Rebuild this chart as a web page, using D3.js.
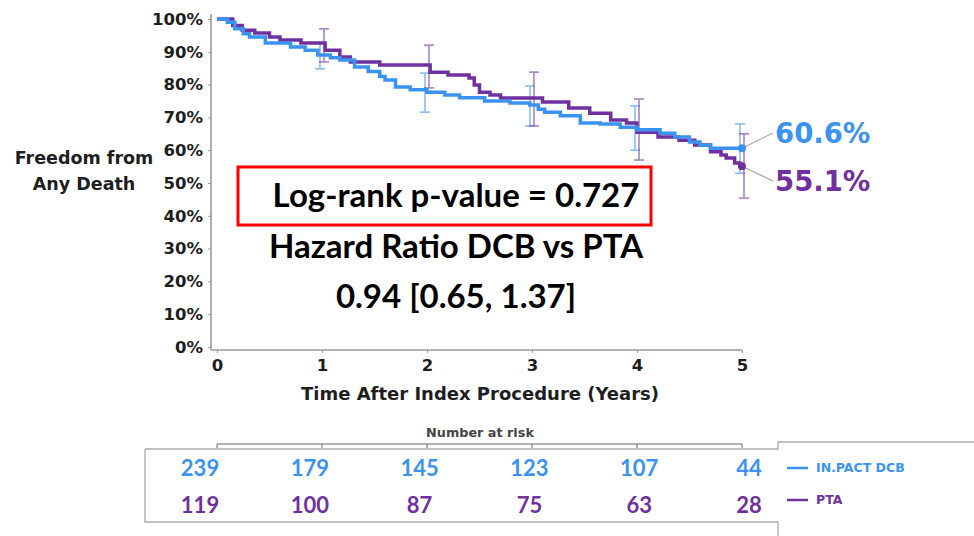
<!DOCTYPE html>
<html>
<head>
<meta charset="utf-8">
<script src="https://cdn.jsdelivr.net/npm/d3@7"></script>
<style>
  body { margin: 0; background: #fff; }
  svg { display: block; }
</style>
</head>
<body>
<script>
// step curves, time in years, survival in %
const dcbTimes  = [0, 0.10, 0.17, 0.25, 0.31, 0.46, 0.70, 0.84, 0.96, 1.08, 1.17, 1.31, 1.44, 1.55, 1.60, 1.70, 1.84, 2.00, 2.17, 2.31, 2.55, 2.79, 2.98, 3.06, 3.12, 3.27, 3.46, 3.65, 3.84, 4.00, 4.22, 4.36, 4.50, 4.60, 4.70, 5.00];
const dcbValues = [100, 99, 97, 95.5, 94.5, 92.7, 91.5, 90.5, 89, 88.2, 87.5, 85.4, 84, 82.5, 81.4, 79.3, 78.4, 77.7, 76.8, 76, 75, 74.4, 73.8, 72.5, 71.6, 70.5, 68.3, 68, 67, 66.2, 65.2, 64, 62.5, 61.5, 60.6, 60.6];

const ptaTimes  = [0, 0.15, 0.24, 0.36, 0.50, 0.60, 0.80, 1.03, 1.17, 1.27, 1.55, 2.03, 2.20, 2.40, 2.45, 2.50, 2.60, 2.70, 3.10, 3.35, 3.55, 3.75, 3.90, 4.00, 4.20, 4.40, 4.55, 4.70, 4.80, 4.85, 4.93, 4.98, 5.00];
const ptaValues = [100, 98, 96.6, 95.7, 94.5, 93.6, 92.7, 90.5, 88.4, 86.9, 86, 83.8, 82.9, 82, 79.9, 77.7, 76.8, 75.9, 74.7, 72.9, 71.3, 69.2, 68.3, 65.5, 64, 63, 61.6, 59.5, 58.5, 57.6, 56.1, 55.1, 55.1];

// confidence bars at each year
const ciYears = [1, 2, 3, 4, 5];
const dcbLow  = [84.8, 71.6, 67.4, 60, 53];
const dcbHigh = [92.7, 83.5, 79.6, 73.5, 68];
const ptaLow  = [86.9, 79, 67.4, 57, 45.4];
const ptaHigh = [97, 92, 83.8, 75.6, 65];

const endLabels = ["60.6%", "55.1%"];
const yTicks = [0, 10, 20, 30, 40, 50, 60, 70, 80, 90, 100];
const xTicks = [0, 1, 2, 3, 4, 5];

const riskYears = [0, 1, 2, 3, 4, 5];
const dcbRisk = [239, 179, 145, 123, 107, 44];
const ptaRisk = [119, 100, 87, 75, 63, 28];
const seriesNames = ["IN.PACT DCB", "PTA"];

const blue = "#3a93f0";
const purple = "#7030a0";
const gotham = "'DejaVu Sans', sans-serif";
const calibri = "Lato, 'Liberation Sans', sans-serif";

const svg = d3.select("body").append("svg")
    .attr("width", 974)
    .attr("height", 536);

const x = d3.scaleLinear().domain([0, 5]).range([217, 742]);
const y = d3.scaleLinear().domain([0, 100]).range([347, 19]);

// axes
const yAxis = svg.append("g")
    .attr("transform", "translate(211,0)")
    .call(d3.axisLeft(y).tickValues(yTicks).tickSize(3).tickPadding(5).tickFormat(d => d + "%"));
yAxis.select(".domain").attr("d", "M0,14V350").attr("stroke", "#9a9a9a").attr("stroke-width", 1.6);
yAxis.selectAll(".tick line").attr("stroke", "#9a9a9a");
yAxis.selectAll(".tick text")
    .attr("font-family", gotham).attr("font-size", 16.5).attr("font-weight", "bold").attr("fill", "#1e1e1e");

const xAxis = svg.append("g")
    .attr("transform", "translate(0,350)")
    .call(d3.axisBottom(x).tickValues(xTicks).tickSize(3).tickPadding(6).tickFormat(d3.format("d")));
xAxis.select(".domain").attr("d", "M211,0H742").attr("stroke", "#9a9a9a").attr("stroke-width", 1.6);
xAxis.selectAll(".tick line").attr("stroke", "#9a9a9a");
xAxis.selectAll(".tick text")
    .attr("font-family", gotham).attr("font-size", 16.5).attr("font-weight", "bold").attr("fill", "#1e1e1e");

svg.append("text")
    .attr("x", 480).attr("y", 400)
    .attr("text-anchor", "middle")
    .attr("font-family", gotham).attr("font-size", 18).attr("font-weight", "bold").attr("fill", "#1e1e1e")
    .text("Time After Index Procedure (Years)");

const yTitle = svg.append("text")
    .attr("text-anchor", "middle")
    .attr("font-family", gotham).attr("font-size", 17.5).attr("font-weight", "bold").attr("fill", "#1e1e1e");
yTitle.append("tspan").attr("x", 84).attr("y", 164).text("Freedom from");
yTitle.append("tspan").attr("x", 84).attr("y", 190).text("Any Death");

// confidence bars
function drawBars(lows, highs, color, dx) {
    const g = svg.append("g").attr("stroke", color).attr("stroke-width", 1.6).attr("opacity", 0.6);
    ciYears.forEach((t, i) => {
        const cx = x(t) + dx;
        g.append("line").attr("x1", cx).attr("x2", cx).attr("y1", y(lows[i])).attr("y2", y(highs[i]));
        g.append("line").attr("x1", cx - 5).attr("x2", cx + 5).attr("y1", y(lows[i])).attr("y2", y(lows[i]));
        g.append("line").attr("x1", cx - 5).attr("x2", cx + 5).attr("y1", y(highs[i])).attr("y2", y(highs[i]));
    });
}
drawBars(dcbLow, dcbHigh, blue, -2);
drawBars(ptaLow, ptaHigh, purple, 2);

// curves
const line = d3.line()
    .x(d => x(d[0]))
    .y(d => y(d[1]))
    .curve(d3.curveStepAfter);

svg.append("path")
    .datum(ptaTimes.map((t, i) => [t, ptaValues[i]]))
    .attr("fill", "none").attr("stroke", purple).attr("stroke-width", 3.5)
    .attr("d", line);
svg.append("path")
    .datum(dcbTimes.map((t, i) => [t, dcbValues[i]]))
    .attr("fill", "none").attr("stroke", blue).attr("stroke-width", 3.5)
    .attr("d", line);

// end points and labels
const ends = [
    { v: dcbValues[dcbValues.length - 1], color: blue, label: endLabels[0], ly: 133 },
    { v: ptaValues[ptaValues.length - 1], color: purple, label: endLabels[1], ly: 181 }
];
ends.forEach(e => {
    svg.append("line")
        .attr("x1", x(5)).attr("y1", y(e.v))
        .attr("x2", 773).attr("y2", e.ly)
        .attr("stroke", "#aaa").attr("stroke-width", 1.2);
    svg.append("circle")
        .attr("cx", x(5)).attr("cy", y(e.v)).attr("r", 4)
        .attr("fill", e.color);
    svg.append("text")
        .attr("x", 775).attr("y", e.ly + 10)
        .attr("font-family", gotham).attr("font-size", 27.5).attr("font-weight", "bold")
        .attr("fill", e.color)
        .text(e.label);
});

// stats box
svg.append("rect")
    .attr("x", 238).attr("y", 167).attr("width", 413).attr("height", 58)
    .attr("fill", "#fff").attr("stroke", "#ff0000").attr("stroke-width", 3);

const statText = ["Log-rank p-value = 0.727", "Hazard Ratio DCB vs PTA", "0.94 [0.65, 1.37]"];
const statY = [207, 258, 308];
statText.forEach((s, i) => {
    svg.append("text")
        .attr("x", 456).attr("y", statY[i])
        .attr("text-anchor", "middle")
        .attr("font-family", calibri).attr("font-size", 33).attr("font-weight", "bold")
        .attr("fill", "#000")
        .text(s);
});

// number at risk
svg.append("text")
    .attr("x", 480).attr("y", 437)
    .attr("text-anchor", "middle")
    .attr("font-family", gotham).attr("font-size", 12.8).attr("font-weight", "bold").attr("fill", "#444")
    .text("Number at risk");

svg.append("path")
    .attr("d", "M" + x(0) + ",448V444H" + x(5) + "V448")
    .attr("fill", "none").attr("stroke", "#666").attr("stroke-width", 1);
riskYears.slice(1, -1).forEach(t => {
    svg.append("line")
        .attr("x1", x(t)).attr("x2", x(t)).attr("y1", 444).attr("y2", 448)
        .attr("stroke", "#666");
});

svg.append("path")
    .attr("d", "M145,449H778V442H974M145,449V522H778V536")
    .attr("fill", "none").attr("stroke", "#aaa").attr("stroke-width", 1.3);

const riskX = d3.scalePoint().domain(riskYears).range([200, 749]);
[[dcbRisk, blue, 476], [ptaRisk, purple, 513]].forEach(([vals, color, yy]) => {
    svg.append("g").selectAll("text")
        .data(vals)
        .join("text")
        .attr("x", (d, i) => riskX(riskYears[i]))
        .attr("y", yy)
        .attr("text-anchor", "middle")
        .attr("font-family", calibri).attr("font-size", 22).attr("font-weight", "bold")
        .attr("fill", color)
        .text(d => d);
});

// legend
[[blue, 468], [purple, 500]].forEach(([color, ly], i) => {
    svg.append("line")
        .attr("x1", 787).attr("x2", 808).attr("y1", ly).attr("y2", ly)
        .attr("stroke", color).attr("stroke-width", 2.5);
    svg.append("text")
        .attr("x", 816).attr("y", ly + 4)
        .attr("font-family", gotham).attr("font-size", 12.5).attr("font-weight", "bold")
        .attr("fill", color)
        .text(seriesNames[i]);
});
</script>
</body>
</html>
